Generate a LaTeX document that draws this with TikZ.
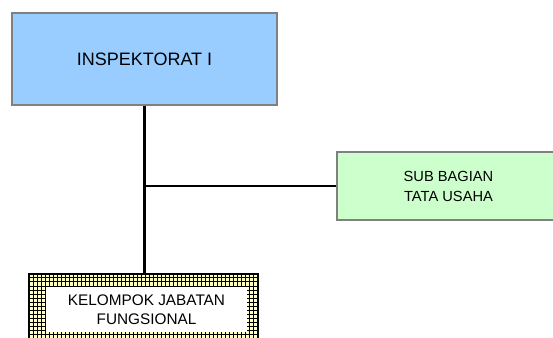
\documentclass[tikz,border=0pt]{standalone}
\usepackage{fontspec}
\setmainfont{Liberation Sans}
\begin{document}
\begin{tikzpicture}[x=0.75pt,y=-0.75pt,
  box/.style={draw={rgb,255:red,128;green,128;blue,128}, line width=1.2pt, inner sep=0pt, align=center},
  conn/.style={line width=2.25pt, black},
  gridline/.style={line width=0.75pt, black}]
\useasboundingbox (0,0) rectangle (553,338);
\definecolor{bluebox}{RGB}{153,204,255}
\definecolor{greenbox}{RGB}{204,255,204}
\definecolor{yellowbox}{RGB}{255,255,190}
% boxes
\node[box, fill=bluebox, minimum width=198.75pt, minimum height=69pt, font=\fontsize{13.5}{16}\selectfont] (insp) at (144.5,59) {INSPEKTORAT I};
\node[box, fill=greenbox, minimum width=167.25pt, minimum height=51pt, font=\fontsize{11}{15}\selectfont] (sub) at (448.5,186) {SUB BAGIAN\\TATA USAHA};
\node[draw=black, line width=0.8pt, fill=yellowbox, minimum width=171.75pt, minimum height=54pt, inner sep=0pt] (kjfout) at (143.5,310) {};
\begin{scope}
  \clip (kjfout.north west) rectangle (kjfout.south east);
  \foreach \gx in {29,33,...,262} \draw[gridline] (\gx,270) -- (\gx,350);
  \foreach \gy in {274,278,...,350} \draw[gridline] (25,\gy) -- (262,\gy);
\end{scope}
\node[fill=white, minimum width=150.75pt, minimum height=33.75pt, inner sep=0pt, align=center, font=\fontsize{11.5}{14.5}\selectfont] (kjf) at (146.5,309.5) {KELOMPOK JABATAN\\FUNGSIONAL};
% connectors
\draw[conn] (insp.south) -- (insp.south |- kjfout.north);
\draw[line width=1.5pt] (sub.west) -- (sub.west -| insp.south);
\end{tikzpicture}
\end{document}
